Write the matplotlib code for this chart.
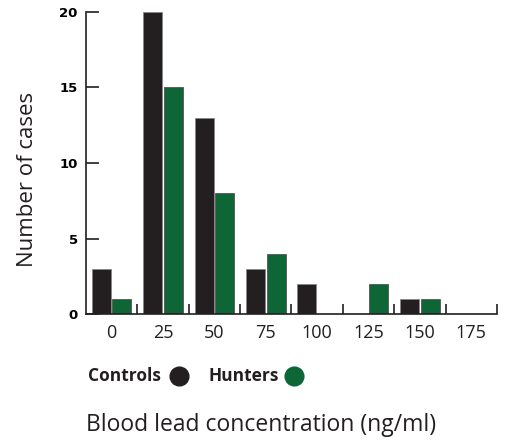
import matplotlib.pyplot as plt
import numpy as np

# данные
concentrations = ["0", "25", "50", "75", "100", "125", "150", "175"]
controls = [3, 20, 13, 3, 2, 0, 1, 0]
hunters = [1, 15, 8, 4, 0, 2, 1, 0]

black = "#231f20"
green = "#0e6637"
W, H = 506, 444

plt.rcParams['font.family'] = ['Open Sans', 'DejaVu Sans']

fig = plt.figure(figsize=(W / 100, H / 100), dpi=100)
ax = fig.add_axes([86 / W, 1 - 314 / H, (497 - 86) / W, (314 - 12) / H])

x = np.arange(len(concentrations))
bw = 0.37
ax.bar(x - 0.2, controls, bw, color=black, edgecolor="#888888", linewidth=0.6)
ax.bar(x + 0.2, hunters, bw, color=green, edgecolor="#555555", linewidth=0.6)

ax.set_xlim(-0.5, len(concentrations) - 0.5)
ax.set_ylim(0, 20)

ax.spines['top'].set_visible(False)
ax.spines['right'].set_visible(False)
for s in ['left', 'bottom']:
    ax.spines[s].set_linewidth(1.2)
    ax.spines[s].set_color(black)

ax.set_yticks([0, 5, 10, 15, 20])
ax.set_yticklabels(["0", "5", "10", "15", "20"], fontweight='bold',
                   family='DejaVu Sans', fontsize=9.5)
ax.tick_params(axis='y', direction='in', length=9, width=1.2, color=black, pad=6)

ax.set_xticks(x)
ax.set_xticklabels(concentrations, fontsize=13, color=black)
ax.set_xticks(np.arange(len(concentrations)) + 0.5, minor=True)
ax.tick_params(axis='x', which='major', length=0, pad=7)
ax.tick_params(axis='x', which='minor', direction='in', length=7, width=1.2, color=black)

fig.text(28 / W, 1 - 179 / H, "Number of cases", rotation=90, ha='center', va='center',
         fontsize=16, color=black)
fig.text(261 / W, 1 - 425 / H, "Blood lead concentration (ng/ml)", ha='center', va='center',
         fontsize=16.5, color=black)

# легенда вручную
fig.text(88 / W, 1 - 376 / H, "Controls", ha='left', va='center', fontsize=12.5,
         fontweight='bold', color=black)
fig.text(209 / W, 1 - 376 / H, "Hunters", ha='left', va='center', fontsize=12.5,
         fontweight='bold', color=black)
fig.lines.append(plt.Line2D([179 / W], [1 - 376 / H], marker='o', markersize=13.5,
                            color=black, transform=fig.transFigure))
fig.lines.append(plt.Line2D([294 / W], [1 - 376 / H], marker='o', markersize=13.5,
                            color=green, transform=fig.transFigure))

fig.savefig("out.png", dpi=100)
